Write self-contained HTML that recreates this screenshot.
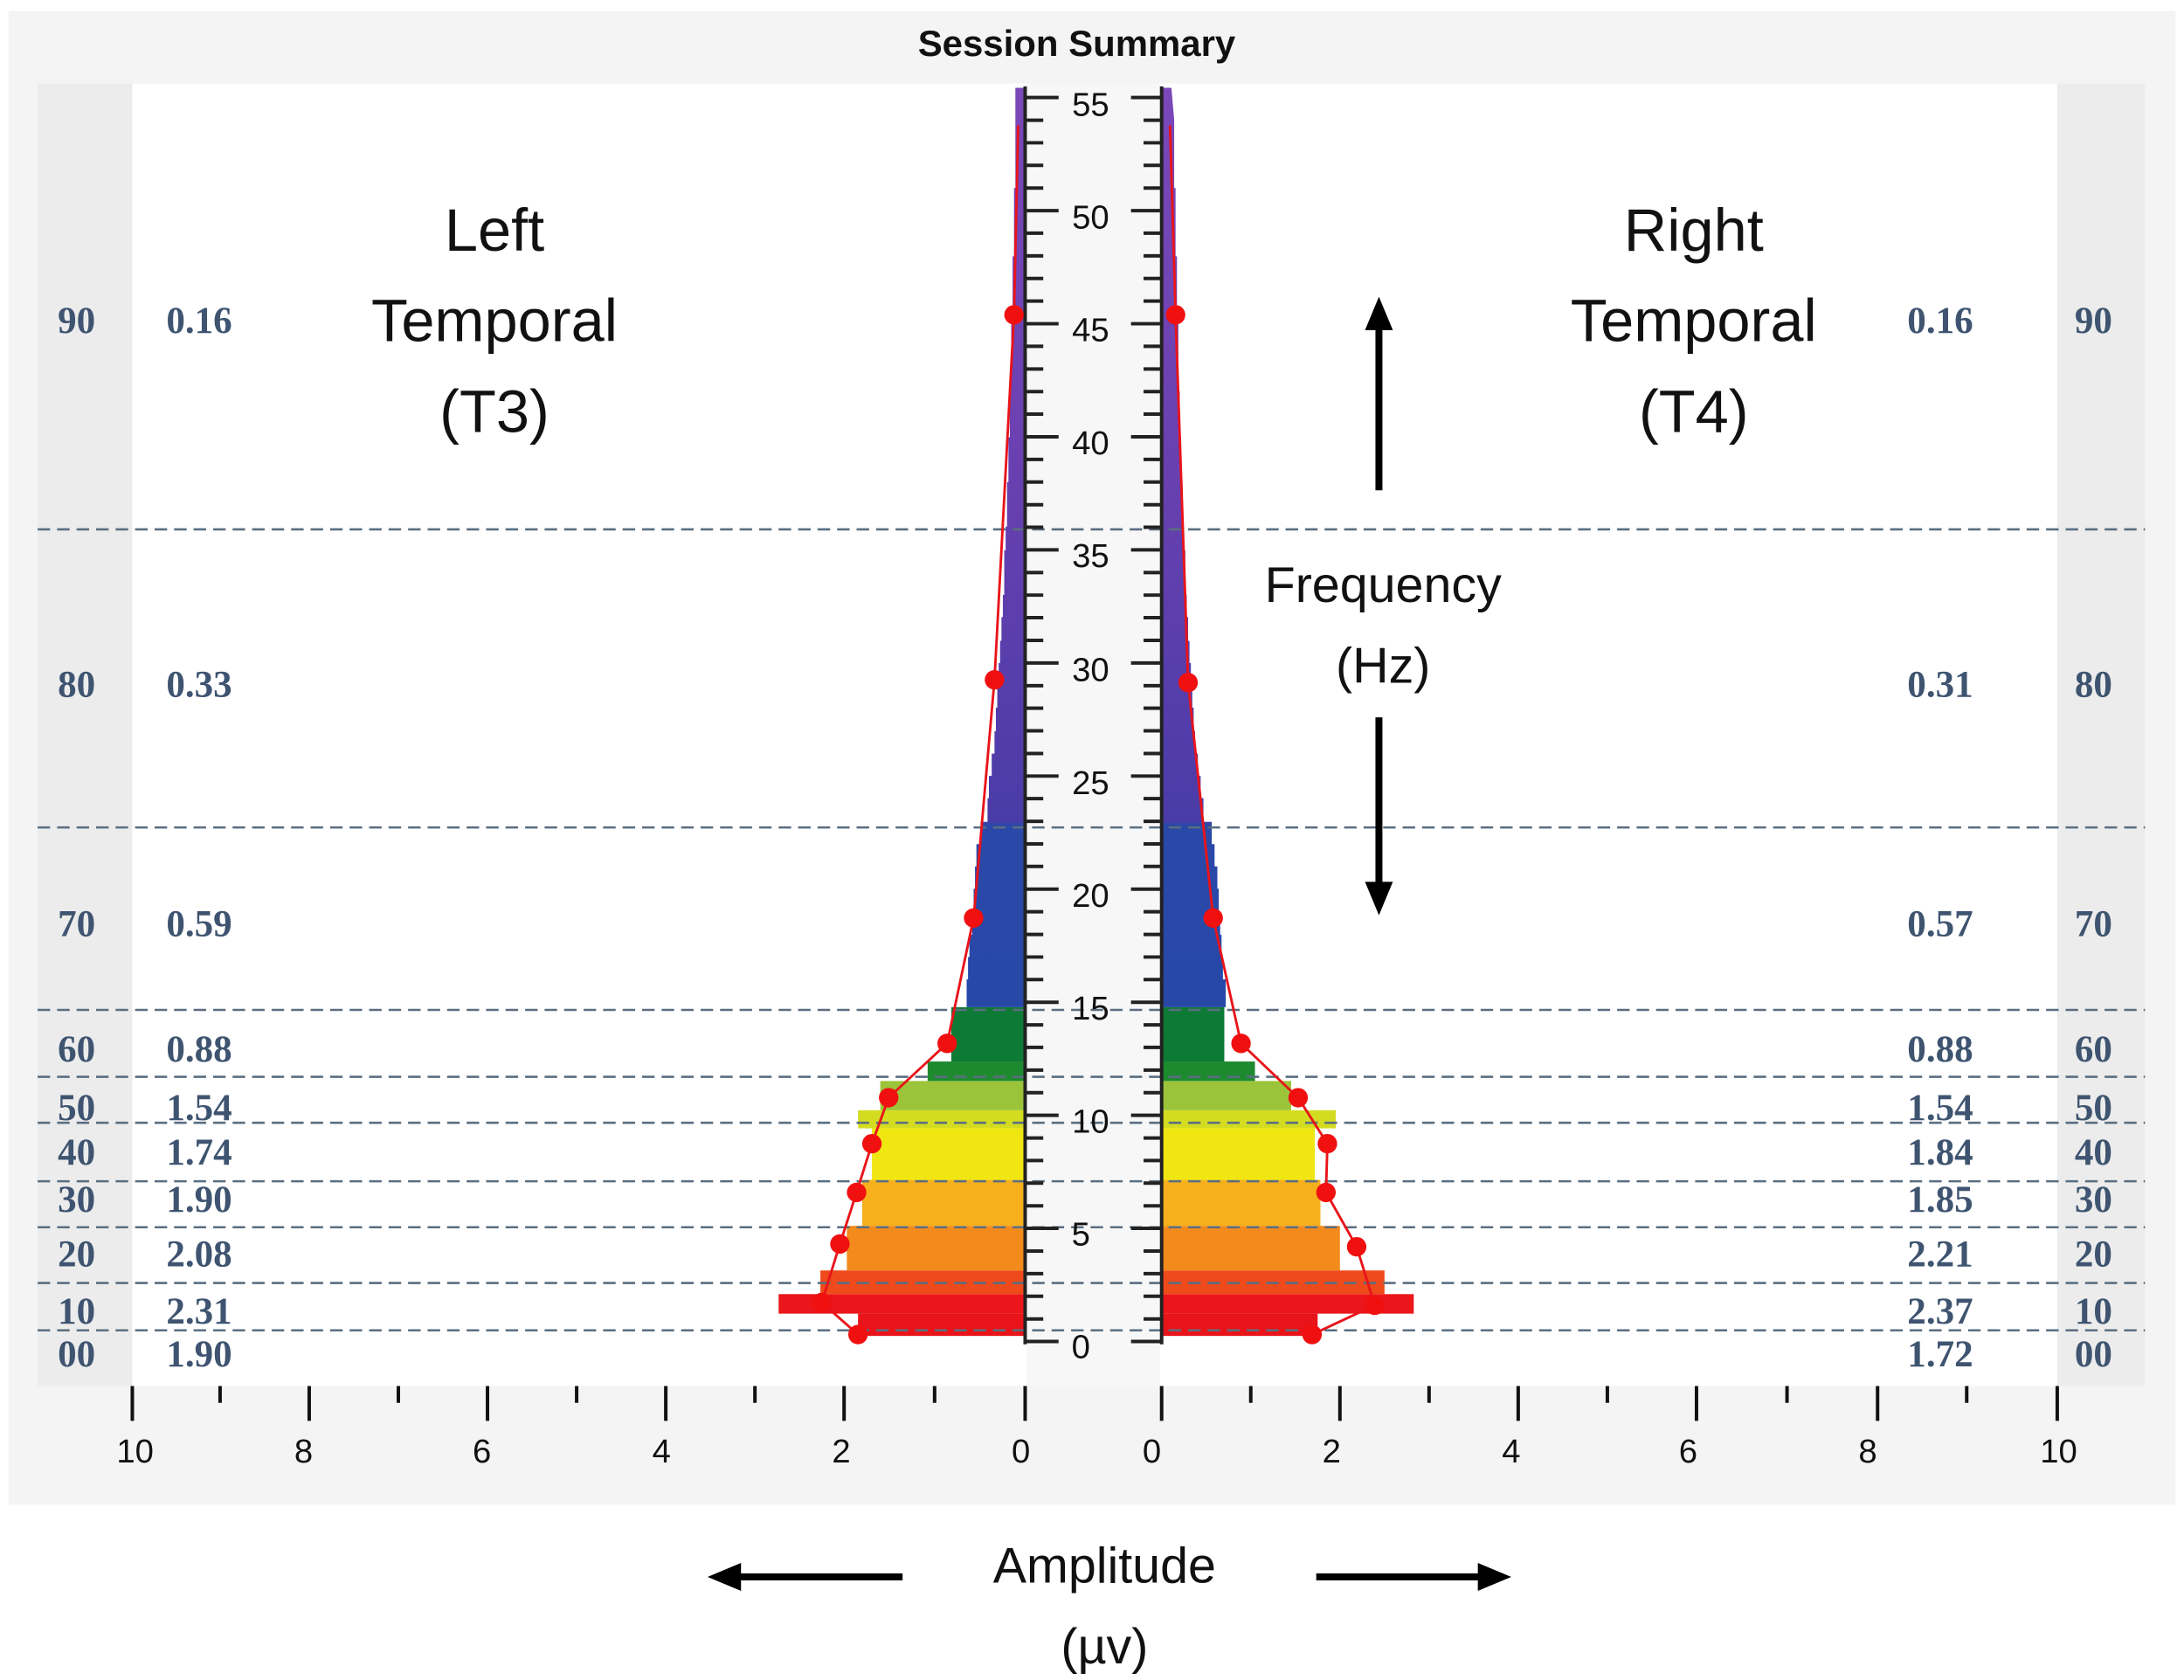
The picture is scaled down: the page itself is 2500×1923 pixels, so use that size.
<!DOCTYPE html>
<html><head><meta charset="utf-8"><style>html,body{margin:0;padding:0;background:#fff}svg{display:block}</style></head>
<body>
<svg width="2500" height="1923" viewBox="0 0 1568 1206" preserveAspectRatio="none" xmlns="http://www.w3.org/2000/svg">
<defs>
<linearGradient id="up" gradientUnits="userSpaceOnUse" x1="0" y1="723" x2="0" y2="70">
<stop offset="0" stop-color="#2848a8"/><stop offset="0.2" stop-color="#2a48a8"/><stop offset="0.205" stop-color="#4a3ca8"/><stop offset="0.6" stop-color="#6a40b0"/><stop offset="1" stop-color="#7a48b8"/>
</linearGradient>
</defs>
<rect x="0" y="0" width="1568" height="1206" fill="#fff"/>
<rect x="6" y="8" width="1556" height="1072" fill="#f4f4f4"/>
<rect x="95" y="60" width="1382" height="935" fill="#fff"/>
<rect x="27" y="60" width="68" height="935" fill="#ececec"/>
<rect x="1477" y="60" width="63" height="935" fill="#ececec"/>
<rect x="737" y="60" width="96" height="935" fill="#f7f7f7"/>
<text x="773" y="40" font-family="Liberation Sans Narrow, Liberation Sans, sans-serif" font-weight="bold" font-size="26" text-anchor="middle" fill="#111" textLength="228" lengthAdjust="spacingAndGlyphs">Session Summary</text>

<rect x="616" y="943" width="120" height="16" fill="#e8141a"/>
<rect x="559" y="929" width="177" height="14" fill="#ea161b"/>
<rect x="589" y="912" width="147" height="17" fill="#ef4a1b"/>
<rect x="608" y="880" width="128" height="32" fill="#f28a1c"/>
<rect x="619" y="847" width="117" height="33" fill="#f6b01c"/>
<rect x="626" y="810" width="110" height="37" fill="#f0e612"/>
<rect x="616" y="797" width="120" height="13" fill="#d4dc22"/>
<rect x="632" y="776" width="104" height="21" fill="#9cc43a"/>
<rect x="666" y="762" width="70" height="14" fill="#1e8a30"/>
<rect x="683" y="723" width="53" height="39" fill="#0d7a35"/>
<rect x="834" y="943" width="112" height="16" fill="#e8141a"/>
<rect x="834" y="929" width="181" height="14" fill="#ea161b"/>
<rect x="834" y="912" width="160" height="17" fill="#ef4a1b"/>
<rect x="834" y="880" width="128" height="32" fill="#f28a1c"/>
<rect x="834" y="847" width="114" height="33" fill="#f6b01c"/>
<rect x="834" y="810" width="110" height="37" fill="#f0e612"/>
<rect x="834" y="797" width="125" height="13" fill="#d4dc22"/>
<rect x="834" y="776" width="93" height="21" fill="#9cc43a"/>
<rect x="834" y="762" width="67" height="14" fill="#1e8a30"/>
<rect x="834" y="723" width="45" height="39" fill="#0d7a35"/>
<polygon fill="url(#up)" points="736,723 694,723 694,703 695,703 695,687 696,687 696,671 698,671 698,655 699,655 699,638 700,638 700,622 701,622 701,606 704,606 704,590 709,590 709,573 710,573 710,557 712,557 712,541 714,541 714,525 715,525 715,508 716,508 716,492 717,492 717,476 718,476 718,460 719,460 719,443 720,443 720,427 721,427 721,411 721,395 722,395 722,378 723,378 723,362 723,346 724,346 724,330 724,314 725,314 725,297 725,281 726,281 726,265 726,249 726,232 727,232 727,216 727,200 727,184 728,184 728,167 728,151 728,135 729,135 729,119 729,103 729,86 729,63 736,63"/>
<polygon fill="url(#up)" points="834,723 880,723 880,703 878,703 878,687 877,687 877,671 876,671 876,655 875,655 875,638 874,638 874,622 872,622 872,606 870,606 870,590 864,590 864,573 862,573 862,557 860,557 860,541 858,541 858,525 857,525 857,508 856,508 856,492 855,492 855,476 854,476 854,460 853,460 853,443 852,443 852,427 851,427 851,411 851,395 850,395 850,378 849,378 849,362 849,346 848,346 848,330 848,314 847,314 847,297 847,281 846,281 846,265 846,249 846,232 845,232 845,216 845,200 845,184 844,184 844,167 844,151 844,135 843,135 843,119 843,103 843,86 841,63 834,63"/>

<g stroke="#5a6e80" stroke-width="1.6" stroke-dasharray="9,5">
<line x1="27" y1="380" x2="1540" y2="380"/><line x1="27" y1="594" x2="1540" y2="594"/>
<line x1="27" y1="725" x2="1540" y2="725"/><line x1="27" y1="773" x2="1540" y2="773"/>
<line x1="27" y1="806" x2="1540" y2="806"/><line x1="27" y1="848" x2="1540" y2="848"/>
<line x1="27" y1="881" x2="1540" y2="881"/><line x1="27" y1="921" x2="1540" y2="921"/>
<line x1="27" y1="955" x2="1540" y2="955"/>
</g>

<g stroke="#222" stroke-width="2.5">
<line x1="736" y1="62" x2="736" y2="965"/><line x1="834" y1="62" x2="834" y2="965"/>
<path d="M736 946.8h13M736 930.5h13M736 914.3h13M736 898.1h13M736 865.6h13M736 849.3h13M736 833.1h13M736 816.9h13M736 784.4h13M736 768.2h13M736 751.9h13M736 735.7h13M736 703.2h13M736 687h13M736 670.8h13M736 654.5h13M736 622h13M736 605.8h13M736 589.6h13M736 573.3h13M736 540.9h13M736 524.6h13M736 508.4h13M736 492.2h13M736 459.7h13M736 443.4h13M736 427.2h13M736 411h13M736 378.5h13M736 362.3h13M736 346h13M736 329.8h13M736 297.3h13M736 281.1h13M736 264.9h13M736 248.6h13M736 216.1h13M736 199.9h13M736 183.7h13M736 167.4h13M736 135h13M736 118.7h13M736 102.5h13M736 86.3h13"/>
<path d="M736 963h24M736 881.8h24M736 800.6h24M736 719.5h24M736 638.3h24M736 557.1h24M736 475.9h24M736 394.7h24M736 313.6h24M736 232.4h24M736 151.2h24M736 70h24"/>
<path d="M834 946.8h-13M834 930.5h-13M834 914.3h-13M834 898.1h-13M834 865.6h-13M834 849.3h-13M834 833.1h-13M834 816.9h-13M834 784.4h-13M834 768.2h-13M834 751.9h-13M834 735.7h-13M834 703.2h-13M834 687h-13M834 670.8h-13M834 654.5h-13M834 622h-13M834 605.8h-13M834 589.6h-13M834 573.3h-13M834 540.9h-13M834 524.6h-13M834 508.4h-13M834 492.2h-13M834 459.7h-13M834 443.4h-13M834 427.2h-13M834 411h-13M834 378.5h-13M834 362.3h-13M834 346h-13M834 329.8h-13M834 297.3h-13M834 281.1h-13M834 264.9h-13M834 248.6h-13M834 216.1h-13M834 199.9h-13M834 183.7h-13M834 167.4h-13M834 135h-13M834 118.7h-13M834 102.5h-13M834 86.3h-13"/>
<path d="M834 963h-22M834 881.8h-22M834 800.6h-22M834 719.5h-22M834 638.3h-22M834 557.1h-22M834 475.9h-22M834 394.7h-22M834 313.6h-22M834 232.4h-22M834 151.2h-22M834 70h-22"/>
</g>
<g font-family="Liberation Sans, sans-serif" font-size="24" fill="#111" text-anchor="middle">
<text x="776" y="975">0</text><text x="776" y="894">5</text><text x="783" y="813">10</text><text x="783" y="732">15</text><text x="783" y="651">20</text><text x="783" y="570">25</text><text x="783" y="489">30</text><text x="783" y="407">35</text><text x="783" y="326">40</text><text x="783" y="245">45</text><text x="783" y="164">50</text><text x="783" y="83">55</text>
</g>

<polyline fill="none" stroke="#e8141a" stroke-width="1.8" points="731,90 728,226 714,488 699,659 680,749 638,788 626,821 615,856 603,893 590,935 616,958"/>
<polyline fill="none" stroke="#e8141a" stroke-width="1.8" points="840,90 844,226 853,490 871,659 891,749 932,788 953,821 952,856 974,895 987,937 942,958"/>
<g fill="#f01010">
<circle cx="728" cy="226" r="7"/><circle cx="714" cy="488" r="7"/><circle cx="699" cy="659" r="7"/><circle cx="680" cy="749" r="7"/><circle cx="638" cy="788" r="7"/><circle cx="626" cy="821" r="7"/><circle cx="615" cy="856" r="7"/><circle cx="603" cy="893" r="7"/><circle cx="590" cy="935" r="7"/><circle cx="616" cy="958" r="7"/>
<circle cx="844" cy="226" r="7"/><circle cx="853" cy="490" r="7"/><circle cx="871" cy="659" r="7"/><circle cx="891" cy="749" r="7"/><circle cx="932" cy="788" r="7"/><circle cx="953" cy="821" r="7"/><circle cx="952" cy="856" r="7"/><circle cx="974" cy="895" r="7"/><circle cx="987" cy="937" r="7"/><circle cx="942" cy="958" r="7"/>
</g>

<g font-family="Liberation Serif, serif" font-size="27" font-weight="bold" fill="#3e5470" text-anchor="middle">
<text x="55" y="239">90</text><text x="55" y="500">80</text><text x="55" y="672">70</text><text x="55" y="762">60</text><text x="55" y="804">50</text><text x="55" y="836">40</text><text x="55" y="870">30</text><text x="55" y="909">20</text><text x="55" y="950">10</text><text x="55" y="981">00</text>
<text x="143" y="239">0.16</text><text x="143" y="500">0.33</text><text x="143" y="672">0.59</text><text x="143" y="762">0.88</text><text x="143" y="804">1.54</text><text x="143" y="836">1.74</text><text x="143" y="870">1.90</text><text x="143" y="909">2.08</text><text x="143" y="950">2.31</text><text x="143" y="981">1.90</text>
<text x="1393" y="239">0.16</text><text x="1393" y="500">0.31</text><text x="1393" y="672">0.57</text><text x="1393" y="762">0.88</text><text x="1393" y="804">1.54</text><text x="1393" y="836">1.84</text><text x="1393" y="870">1.85</text><text x="1393" y="909">2.21</text><text x="1393" y="950">2.37</text><text x="1393" y="981">1.72</text>
<text x="1503" y="239">90</text><text x="1503" y="500">80</text><text x="1503" y="672">70</text><text x="1503" y="762">60</text><text x="1503" y="804">50</text><text x="1503" y="836">40</text><text x="1503" y="870">30</text><text x="1503" y="909">20</text><text x="1503" y="950">10</text><text x="1503" y="981">00</text>
</g>

<g stroke="#111" stroke-width="2.5">
<path d="M95 995v25M222 995v25M350 995v25M478 995v25M606 995v25M736 995v25M834 995v25M962 995v25M1090 995v25M1218 995v25M1348 995v25M1477 995v25"/>
<path d="M158 995v12M286 995v12M414 995v12M542 995v12M671 995v12M898 995v12M1026 995v12M1154 995v12M1283 995v12M1412 995v12"/>
</g>
<g font-family="Liberation Sans, sans-serif" font-size="24" fill="#111" text-anchor="middle">
<text x="97" y="1050">10</text><text x="218" y="1050">8</text><text x="346" y="1050">6</text><text x="475" y="1050">4</text><text x="604" y="1050">2</text><text x="733" y="1050">0</text>
<text x="827" y="1050">0</text><text x="956" y="1050">2</text><text x="1085" y="1050">4</text><text x="1212" y="1050">6</text><text x="1341" y="1050">8</text><text x="1478" y="1050">10</text>
</g>

<g font-family="Liberation Sans, sans-serif" font-size="43" fill="#111" text-anchor="middle">
<text x="355" y="180">Left</text><text x="355" y="245">Temporal</text><text x="355" y="310">(T3)</text>
<text x="1216" y="180">Right</text><text x="1216" y="245">Temporal</text><text x="1216" y="310">(T4)</text>
</g>
<g font-family="Liberation Sans, sans-serif" font-size="36" fill="#111" text-anchor="middle">
<text x="993" y="432">Frequency</text><text x="993" y="490">(Hz)</text>
<text x="793" y="1136">Amplitude</text><text x="793" y="1194">(µv)</text>
</g>
<g stroke="#000" stroke-width="5" fill="#000">
<line x1="990" y1="352" x2="990" y2="235"/><line x1="990" y1="515" x2="990" y2="635"/>
<line x1="648" y1="1132" x2="530" y2="1132"/><line x1="945" y1="1132" x2="1063" y2="1132"/>
</g>
<g fill="#000">
<polygon points="990,213 980,237 1000,237"/><polygon points="990,657 980,633 1000,633"/>
<polygon points="508,1132 532,1122 532,1142"/><polygon points="1085,1132 1061,1122 1061,1142"/>
</g>
</svg>
</body></html>
